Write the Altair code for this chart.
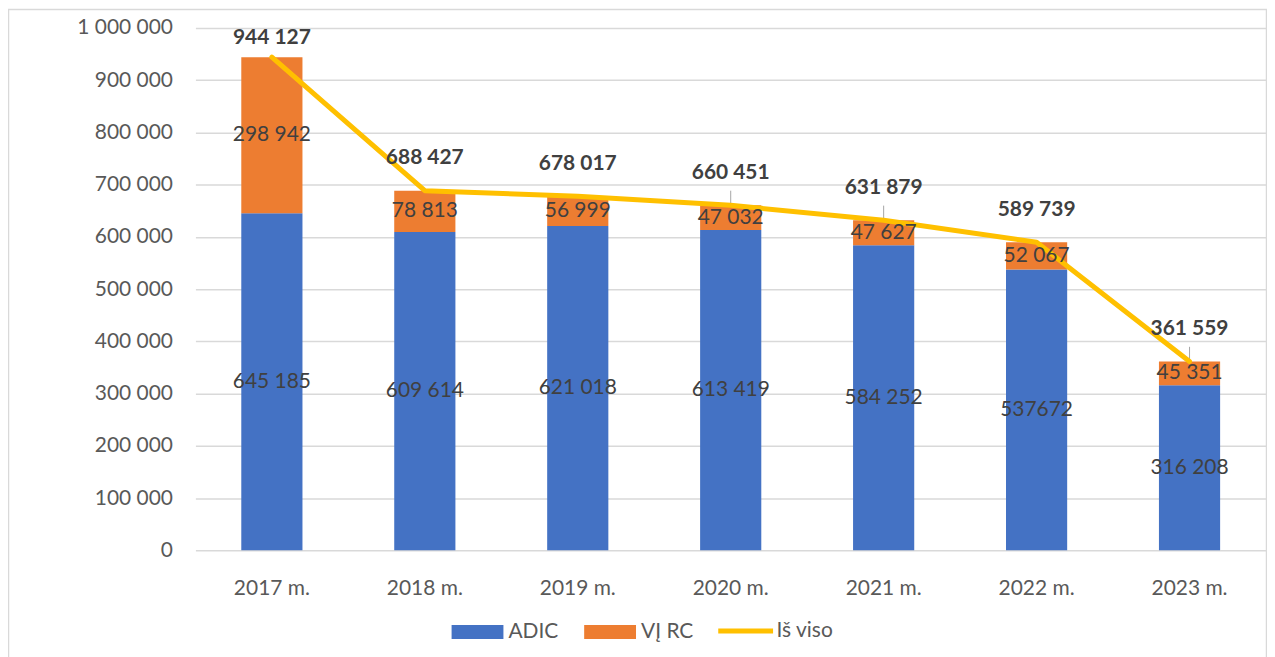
import altair as alt
import pandas as pd

years = ["2017 m.", "2018 m.", "2019 m.", "2020 m.", "2021 m.", "2022 m.", "2023 m."]
adic = [645185, 609614, 621018, 613419, 584252, 537672, 316208]
vjrc = [298942, 78813, 56999, 47032, 47627, 52067, 45351]
totals = [944127, 688427, 678017, 660451, 631879, 589739, 361559]
adic_text = ["645 185", "609 614", "621 018", "613 419", "584 252", "537672", "316 208"]
vjrc_text = ["298 942", "78 813", "56 999", "47 032", "47 627", "52 067", "45 351"]
total_text = ["944 127", "688 427", "678 017", "660 451", "631 879", "589 739", "361 559"]
has_leader = [False, False, False, True, True, False, True]

series_names = ["ADIC", "VĮ RC"]
line_name = "Iš viso"

FONT = "Lato"
TXT = "#404040"
AX = "#595959"

bar_rows = []
lab_rows = []
for i, y in enumerate(years):
    bar_rows.append({"year": y, "series": "ADIC", "value": adic[i], "ord": 0})
    bar_rows.append({"year": y, "series": "VĮ RC", "value": vjrc[i], "ord": 1})
    lab_rows.append({"year": y, "mid": adic[i] / 2, "text": adic_text[i]})
    lab_rows.append({"year": y, "mid": adic[i] + vjrc[i] / 2, "text": vjrc_text[i]})
bars_df = pd.DataFrame(bar_rows)
labs_df = pd.DataFrame(lab_rows)
line_df = pd.DataFrame({
    "year": years,
    "total": totals,
    "series": [line_name] * len(years),
    "text": total_text,
    "leader": has_leader,
})
line_df["label_y"] = [min(t + 62000, 980000) for t in totals]
line_df["leader_top"] = [t + 28000 for t in totals]

x_enc = alt.X("year:N", sort=years,
              scale=alt.Scale(paddingInner=0.6, paddingOuter=0.3),
              axis=alt.Axis(title=None, domain=False, ticks=False, labelAngle=0,
                            labelPadding=27, labelFont=FONT, labelFontSize=21,
                            labelColor=AX, grid=False))
y_scale = alt.Scale(domain=[0, 1000000], nice=False)

bars = alt.Chart(bars_df).mark_bar().encode(
    x=x_enc,
    y=alt.Y("value:Q", stack="zero", scale=y_scale,
            axis=alt.Axis(title=None, domain=False, ticks=False,
                          values=list(range(0, 1000001, 100000)),
                          labelExpr="replace(replace(format(datum.value, ','), ',', ' '), ',', ' ')",
                          labelPadding=23, labelFont=FONT, labelFontSize=21, labelColor=AX,
                          grid=True, gridColor="#D9D9D9", gridWidth=1.5)),
    color=alt.Color("series:N",
                    scale=alt.Scale(domain=series_names, range=["#4472C4", "#ED7D31"]),
                    legend=alt.Legend(orient="none", legendX=257, legendY=580,
                                      direction="horizontal", columns=2, title=None,
                                      symbolType="M-1,-0.27L1,-0.27L1,0.27L-1,0.27Z",
                                      symbolSize=2704, symbolStrokeWidth=0,
                                      labelFont=FONT, labelFontSize=21, labelColor=AX,
                                      labelOffset=5, columnPadding=25, padding=0)),
    order=alt.Order("ord:Q"),
)

seg_labels = alt.Chart(labs_df).mark_text(
    font=FONT, fontSize=21, color=TXT, baseline="middle", align="center"
).encode(
    x=alt.X("year:N", sort=years),
    y=alt.Y("mid:Q", scale=y_scale),
    text="text:N",
)

line = alt.Chart(line_df).mark_line(strokeWidth=5, strokeCap="round", strokeJoin="round").encode(
    x=alt.X("year:N", sort=years),
    y=alt.Y("total:Q", scale=y_scale),
    stroke=alt.Stroke("series:N",
                      scale=alt.Scale(domain=[line_name], range=["#FFC000"]),
                      legend=alt.Legend(orient="none", legendX=522, legendY=575,
                                        direction="horizontal", columns=1, title=None,
                                        symbolType="stroke", symbolSize=3025,
                                        symbolStrokeWidth=5,
                                        labelFont=FONT, labelFontSize=21, labelColor=AX,
                                        labelOffset=1, padding=0)),
)

leaders = alt.Chart(line_df).transform_filter("datum.leader").mark_rule(
    color="#A6A6A6", strokeWidth=1
).encode(
    x=alt.X("year:N", sort=years),
    y=alt.Y("total:Q", scale=y_scale),
    y2="leader_top:Q",
)

tot_labels = alt.Chart(line_df).mark_text(
    font=FONT, fontSize=21, fontWeight="bold", color=TXT, baseline="middle", align="center"
).encode(
    x=alt.X("year:N", sort=years),
    y=alt.Y("label_y:Q", scale=y_scale),
    text="text:N",
)

border = alt.Chart(pd.DataFrame({"k": [0]})).mark_rect(
    fill="transparent", stroke="#D9D9D9", strokeWidth=1.5
).encode(
    x=alt.value(-187.5), x2=alt.value(1074.5), y=alt.value(-18.5), y2=alt.value(650)
)

chart = alt.layer(border, bars, leaders, line, seg_labels, tot_labels).resolve_scale(
    color="independent", stroke="independent"
).properties(
    width=1074, height=524,
    autosize=alt.AutoSizeParams(type="none"),
    padding={"left": 188, "top": 19, "right": 1, "bottom": 106},
).configure_view(stroke=None)

chart.save("out.html", embed_options={"renderer": "svg", "actions": False})
